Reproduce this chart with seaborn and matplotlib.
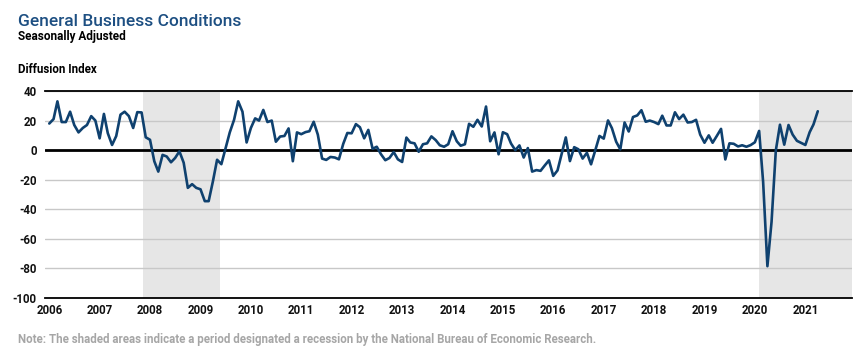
# General Business Conditions - Empire State style chart
import pandas as pd
import numpy as np
import matplotlib
matplotlib.use("Agg")
import matplotlib.pyplot as plt
import seaborn as sns

# -------------------------------------
# Data (monthly, Jan 2006 - Apr 2021)
# -------------------------------------

first_month = "2006-01-01"

values_2006 = [18, 21, 33, 19, 19, 26, 17, 12, 15, 17, 23, 20]
values_2007 = [8, 24.5, 11.5, 3.5, 9.5, 24, 26, 23, 15, 25.7, 25.5, 8.7]
values_2008 = [7, -7.5, -14.5, -3.2, -4.3, -8.2, -5.3, -0.8, -8.5, -25.5, -23, -25.5]
values_2009 = [-26.5, -34.5, -34.5, -21, -6.5, -9.5, 1, 12, 20.5, 33, 26, 5.2]
values_2010 = [15, 21.5, 20, 27.2, 19, 20, 5.7, 9.2, 9.6, 14.7, -7.5, 12]
values_2011 = [10.8, 12.2, 12.8, 19.2, 10.5, -5.7, -6.6, -4.6, -5, -6.2, 4.2, 11.6]
values_2012 = [11.4, 17.6, 15.5, 8, 13.7, 0.9, 2.3, -2.8, -6.8, -5.3, -1.3, -6.2]
values_2013 = [-8, 8.5, 5.2, 4.6, -1.1, 4, 4.6, 9.3, 6.8, 3.3, 2.3, 4]
values_2014 = [12.8, 6, 3, 4, 17.8, 15.8, 20.5, 16, 29.5, 6, 12, -2.8]
values_2015 = [12.1, 10.8, 4.5, 0, 3.2, -5, 1.4, -14.5, -13.5, -14, -10.3, -6.9]
values_2016 = [-17.4, -13.7, -2.8, 8.6, -7.4, 2, 0.6, -5.7, -1.8, -9.6, 0, 9.6]
values_2017 = [7.8, 20.1, 14.9, 5.7, 0.5, 18.7, 12.6, 22.4, 23.5, 27, 19.2, 20]
values_2018 = [19, 17.6, 23.3, 16.7, 16.7, 25.6, 21, 24, 18.7, 19, 20.5, 10.5]
values_2019 = [5, 10, 5, 9.7, 14.4, -6.3, 4.6, 4.3, 2.5, 3.3, 2.3, 3.4]
values_2020 = [5.3, 13, -21.5, -78.5, -48.5, -0.2, 17.2, 3.7, 17, 10.5, 6.3, 4.9]
values_2021 = [3.5, 12.1, 17.4, 26.3]

index_values = (values_2006 + values_2007 + values_2008 + values_2009 +
                values_2010 + values_2011 + values_2012 + values_2013 +
                values_2014 + values_2015 + values_2016 + values_2017 +
                values_2018 + values_2019 + values_2020 + values_2021)

year_labels = [str(y) for y in range(2006, 2022)]

# recession periods (NBER), as shaded on the chart
recession_starts = ["2007-11-10", "2020-02-01"]
recession_ends = ["2009-05-25", "2021-12-05"]

df = pd.DataFrame({
    "Date": pd.date_range(first_month, periods=len(index_values), freq="MS"),
    "Index": index_values,
})

# -------------------------------------
# Style
# -------------------------------------

sns.set_style("white")
plt.rcParams["font.family"] = ["Roboto", "DejaVu Sans"]
plt.rcParams["axes.unicode_minus"] = False

title_blue = "#1d4f82"
line_blue = "#0f416f"

fig = plt.figure(figsize=(8.67, 3.58), dpi=100)
ax = fig.add_axes([0.0519, 0.1676, 0.9308, 0.5782])

for s, e in zip(recession_starts, recession_ends):
    ax.axvspan(pd.Timestamp(s), pd.Timestamp(e), color="#e6e6e6", lw=0, zorder=0)

sns.lineplot(data=df, x="Date", y="Index", ax=ax, color=line_blue,
             linewidth=1.9, zorder=3)

ax.axhline(0, color="black", linewidth=2.0, zorder=2)

ax.set_xlim(pd.Timestamp("2005-12-01"), pd.Timestamp("2021-12-05"))
ax.set_ylim(-100, 40)
ax.set_yticks(range(-100, 41, 20))
ax.grid(axis="y", color="#c8c8c8", linewidth=1.0, zorder=1)
ax.grid(axis="x", visible=False)
ax.set_axisbelow(True)

ax.set_xticks([pd.Timestamp(y + "-01-01") for y in year_labels])
ax.set_xticklabels(year_labels)

for side in ["left", "right"]:
    ax.spines[side].set_visible(False)
for side in ["top", "bottom"]:
    ax.spines[side].set_color("black")
    ax.spines[side].set_linewidth(1.3)

ax.tick_params(axis="y", length=0, pad=6, labelsize=8.3, labelcolor="#111111")
ax.tick_params(axis="x", direction="in", length=5, width=1, color="#333355",
               pad=4, labelsize=8.3, labelcolor="#111111")
for lab in ax.get_xticklabels() + ax.get_yticklabels():
    lab.set_fontweight("bold")

ax.set_xlabel("")
ax.set_ylabel("")

# -------------------------------------
# Titles and note
# -------------------------------------

fig.text(0.021, 0.927, "General Business Conditions", color=title_blue,
         fontsize=12.5, fontweight="medium", ha="left", va="baseline")
fig.text(0.021, 0.887, "Seasonally Adjusted", color="black",
         fontsize=8.5, fontweight="bold", ha="left", va="baseline")
fig.text(0.021, 0.797, "Diffusion Index", color="black",
         fontsize=8.3, fontweight="bold", ha="left", va="baseline")
fig.text(0.021, 0.043,
         "Note: The shaded areas indicate a period designated a recession by "
         "the National Bureau of Economic Research.",
         color="#a6a6a6", fontsize=8.3, fontweight="bold", ha="left", va="baseline")

plt.savefig("out.png", dpi=100)
